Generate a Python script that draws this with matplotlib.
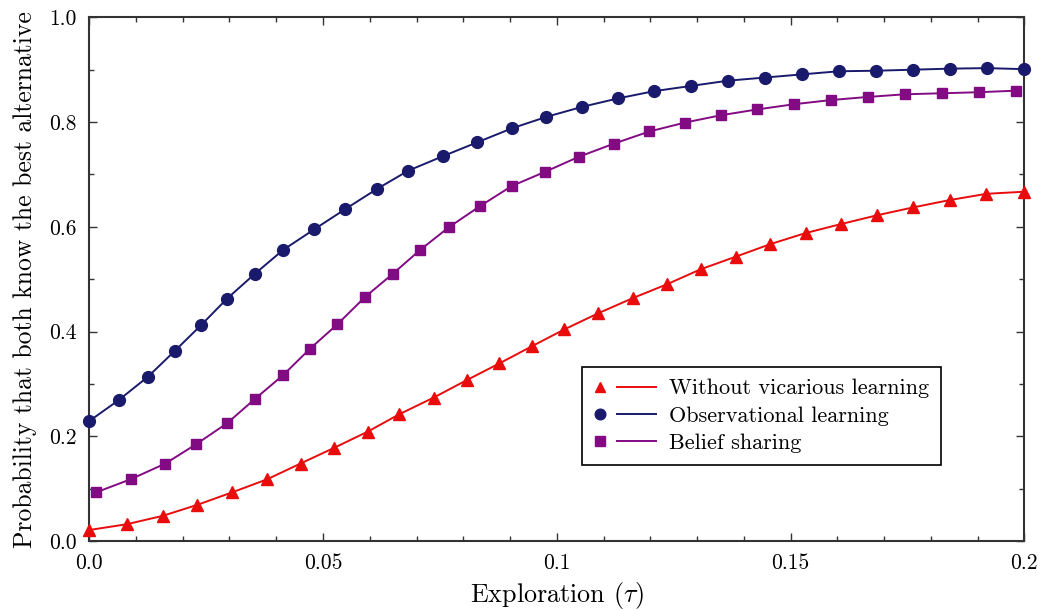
import matplotlib
matplotlib.use("Agg")
import matplotlib.pyplot as plt
from matplotlib.lines import Line2D
from matplotlib.legend_handler import HandlerBase
from matplotlib.ticker import MultipleLocator

plt.rcParams['font.family'] = ['cmr10', 'DejaVu Serif']
plt.rcParams['mathtext.fontset'] = 'cm'
plt.rcParams['axes.formatter.use_mathtext'] = True

# Probability that both agents know the best alternative vs exploration
tau_none = [0.0, 0.0080, 0.0157, 0.0231, 0.0306, 0.0381, 0.0452, 0.0524, 0.0596,
            0.0663, 0.0737, 0.0807, 0.0877, 0.0947, 0.1016, 0.1089, 0.1163, 0.1235,
            0.1308, 0.1383, 0.1457, 0.1532, 0.1607, 0.1685, 0.1762, 0.1840, 0.1919, 0.2]
p_none = [0.021, 0.032, 0.048, 0.069, 0.093, 0.118, 0.148, 0.178, 0.209,
          0.242, 0.274, 0.307, 0.339, 0.372, 0.404, 0.435, 0.464, 0.490,
          0.519, 0.543, 0.567, 0.588, 0.605, 0.622, 0.637, 0.651, 0.663, 0.667]

tau_obs = [0.0, 0.0063, 0.0126, 0.0183, 0.0239, 0.0295, 0.0354, 0.0415, 0.0481,
           0.0548, 0.0615, 0.0682, 0.0757, 0.0829, 0.0904, 0.0978, 0.1054, 0.1130,
           0.1208, 0.1287, 0.1366, 0.1445, 0.1524, 0.1603, 0.1682, 0.1762, 0.1841,
           0.1920, 0.2]
p_obs = [0.229, 0.269, 0.314, 0.363, 0.412, 0.463, 0.510, 0.556, 0.595,
         0.634, 0.672, 0.707, 0.735, 0.761, 0.788, 0.810, 0.829, 0.845,
         0.859, 0.869, 0.879, 0.885, 0.891, 0.897, 0.898, 0.900, 0.902,
         0.903, 0.901]

tau_belief = [0.0015, 0.0089, 0.0163, 0.0229, 0.0295, 0.0354, 0.0415, 0.0472, 0.0531,
              0.0590, 0.0649, 0.0708, 0.0769, 0.0835, 0.0904, 0.0975, 0.1048, 0.1123,
              0.1198, 0.1274, 0.1351, 0.1428, 0.1507, 0.1586, 0.1666, 0.1744, 0.1824,
              0.1903, 0.1983]
p_belief = [0.093, 0.118, 0.148, 0.185, 0.225, 0.271, 0.317, 0.367, 0.414,
            0.466, 0.510, 0.556, 0.599, 0.639, 0.678, 0.705, 0.734, 0.759,
            0.782, 0.799, 0.813, 0.824, 0.834, 0.842, 0.848, 0.853, 0.855,
            0.857, 0.860]

labels = ['Without vicarious learning', 'Observational learning', 'Belief sharing']
x_ticks = [0.0, 0.05, 0.1, 0.15, 0.2]
x_ticklabels = ['0.0', '0.05', '0.1', '0.15', '0.2']
y_ticks = [0.0, 0.2, 0.4, 0.6, 0.8, 1.0]
y_ticklabels = ['0.0', '0.2', '0.4', '0.6', '0.8', '1.0']

red = '#e80c0c'
navy = '#1a1a6c'
purple = '#820a82'


class MarkerThenLine(HandlerBase):
    # marker on the left, short line segment on the right
    def create_artists(self, legend, orig_handle, xdescent, ydescent,
                       width, height, fontsize, trans):
        y = (height - ydescent) / 2.0
        x0 = -xdescent
        mk = Line2D([x0 + 0.1 * width], [y], ls='none',
                    marker=orig_handle.get_marker(),
                    markersize=orig_handle.get_markersize() * 0.9,
                    color=orig_handle.get_color())
        ln = Line2D([x0 + 0.36 * width, x0 + width], [y, y],
                    color=orig_handle.get_color(),
                    lw=orig_handle.get_linewidth())
        mk.set_transform(trans)
        ln.set_transform(trans)
        return [mk, ln]


fig = plt.figure(figsize=(10.41, 6.10), dpi=100)
ax = fig.add_axes([0.0857, 0.1131, 0.8983, 0.8585])

l1, = ax.plot(tau_none, p_none, '-^', color=red, lw=1.4, markersize=8.5, clip_on=False, zorder=3)
l2, = ax.plot(tau_obs, p_obs, '-o', color=navy, lw=1.4, markersize=8.5, clip_on=False, zorder=3)
l3, = ax.plot(tau_belief, p_belief, '-s', color=purple, lw=1.4, markersize=7.5, clip_on=False, zorder=3)

ax.set_xlim(0, 0.2)
ax.set_ylim(0, 1.0)
ax.set_xticks(x_ticks)
ax.set_xticklabels(x_ticklabels)
ax.set_yticks(y_ticks)
ax.set_yticklabels(y_ticklabels)
ax.xaxis.set_minor_locator(MultipleLocator(0.01))
ax.yaxis.set_minor_locator(MultipleLocator(0.1))
ax.tick_params(which='both', direction='in', top=True, right=True,
               color='#333333', width=1.0, labelsize=15.5)
ax.tick_params(which='major', length=6, pad=9)
ax.tick_params(which='minor', length=3.5)
for s in ax.spines.values():
    s.set_linewidth(1.5)
    s.set_color('#333333')

ax.set_xlabel(r'Exploration ($\tau$)', fontsize=18.8, labelpad=5)
ax.set_ylabel('Probability that both know the best alternative', fontsize=18.5, labelpad=9)

leg = ax.legend([l1, l2, l3], labels, handler_map={Line2D: MarkerThenLine()},
                loc='upper left', bbox_to_anchor=(0.527, 0.333), borderaxespad=0,
                fontsize=16, handlelength=2.8, handletextpad=0.55,
                labelspacing=0.35, borderpad=0.55, fancybox=False,
                framealpha=1, edgecolor='black')
leg.get_frame().set_linewidth(1.2)

fig.savefig('out.png', dpi=100)
